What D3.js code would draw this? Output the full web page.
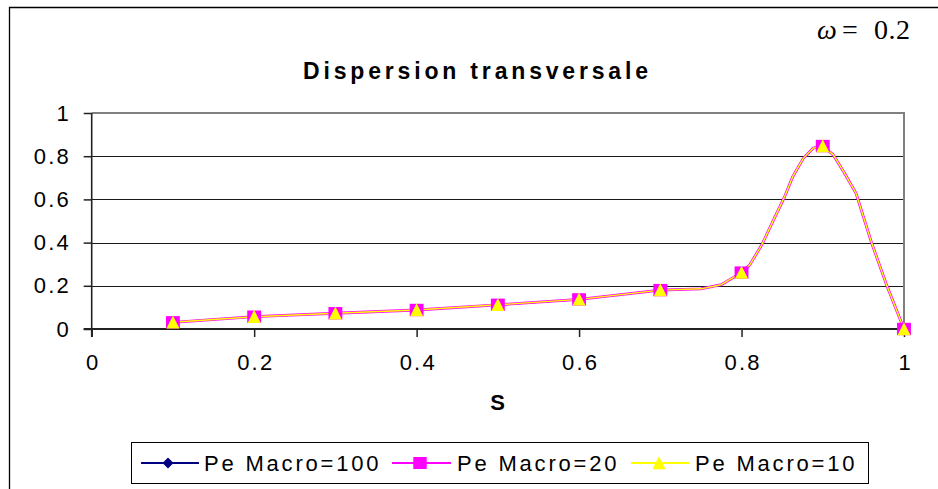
<!DOCTYPE html>
<html>
<head>
<meta charset="utf-8">
<script src="https://cdn.jsdelivr.net/npm/d3@7/dist/d3.min.js"></script>
<style>
  html, body { margin: 0; padding: 0; background: #fff; }
  svg { display: block; }
  text { font-family: "Liberation Sans", Arial, sans-serif; fill: #000; }
</style>
</head>
<body>
<svg id="chart" width="938" height="489"></svg>
<script>
// ---------------- data ----------------
const title = "Dispersion transversale";
const xLabel = "S";
const omegaLabel = "0.2";
const xTicks = [0, 0.2, 0.4, 0.6, 0.8, 1];
const yTicks = [0, 0.2, 0.4, 0.6, 0.8, 1];

// marker positions (S) and values
const sMarkers = [0.1, 0.2, 0.3, 0.4, 0.5, 0.6, 0.7, 0.8, 0.9, 1.0];
const pe100 = [0.031, 0.057, 0.073, 0.088, 0.112, 0.137, 0.180, 0.261, 0.847, 0.0];
const pe20  = [0.031, 0.057, 0.073, 0.088, 0.112, 0.137, 0.180, 0.261, 0.847, 0.0];
const pe10  = [0.031, 0.057, 0.073, 0.088, 0.112, 0.137, 0.180, 0.261, 0.847, 0.0];

// curve points
const sCurve = [0.1, 0.2, 0.3, 0.4, 0.5, 0.6, 0.7, 0.75, 0.775, 0.8, 0.81, 0.825, 0.84, 0.853,
                0.863, 0.876, 0.888, 0.9, 0.913, 0.927, 0.941, 0.96, 0.978, 1.0];
const curve100 = [0.031, 0.057, 0.073, 0.088, 0.112, 0.137, 0.180, 0.186, 0.205, 0.261, 0.296, 0.39, 0.51, 0.612,
                  0.705, 0.79, 0.837, 0.847, 0.806, 0.72, 0.628, 0.40, 0.21, 0.0];
const curve20  = [0.031, 0.057, 0.073, 0.088, 0.112, 0.137, 0.180, 0.186, 0.205, 0.261, 0.296, 0.39, 0.51, 0.612,
                  0.705, 0.79, 0.837, 0.847, 0.806, 0.72, 0.628, 0.40, 0.21, 0.0];
const curve10  = [0.031, 0.057, 0.073, 0.088, 0.112, 0.137, 0.180, 0.186, 0.205, 0.261, 0.296, 0.39, 0.51, 0.612,
                  0.705, 0.79, 0.837, 0.847, 0.806, 0.72, 0.628, 0.40, 0.21, 0.0];

const seriesNames = ["Pe Macro=100", "Pe Macro=20", "Pe Macro=10"];
const seriesColors = ["#000080", "#FF00FF", "#FFFF00"];
const seriesSymbols = ["diamond", "square", "triangle"];

// ---------------- layout ----------------
const svg = d3.select("#chart");
const plot = { left: 91.7, right: 904, top: 113, bottom: 329 };

const x = d3.scaleLinear().domain([0, 1]).range([plot.left, plot.right]);
const y = d3.scaleLinear().domain([0, 1]).range([plot.bottom, plot.top]);
const fmt = d => String(+d.toFixed(1));

// outer frame (only left/top visible)
svg.append("path")
  .attr("d", "M9.5,489 V7.5 H938")
  .attr("fill", "none").attr("stroke", "#000").attr("stroke-width", 1.3);

// omega label
const serif = "'Liberation Serif', 'Times New Roman', serif";
const om = svg.append("g").attr("transform", "translate(0,38.5)");
om.append("text").attr("x", 817).attr("y", 0)
  .style("font-family", serif)
  .style("font-style", "italic").style("font-size", "28px").text("ω");
om.append("text").attr("x", 842).attr("y", 0)
  .style("font-family", serif)
  .style("font-size", "28px").text("=");
om.append("text").attr("x", 874).attr("y", 0)
  .style("font-family", serif)
  .style("font-size", "28px").style("letter-spacing", "0.5px").text(omegaLabel);

// title
svg.append("text")
  .attr("x", 303).attr("y", 79)
  .style("font-size", "23px").style("font-weight", "bold")
  .attr("textLength", 345).attr("lengthAdjust", "spacing")
  .text(title);

// gridlines
svg.append("g").selectAll("line")
  .data(yTicks.filter(d => d > 0 && d < 1))
  .join("line")
  .attr("x1", plot.left).attr("x2", plot.right)
  .attr("y1", d => Math.round(y(d)) + 0.5).attr("y2", d => Math.round(y(d)) + 0.5)
  .attr("stroke", "#1a1a1a").attr("stroke-width", 1.2);

// plot area border (top/right, gray)
svg.append("path")
  .attr("d", `M${plot.left},${y(1)} H${x(1)} V${plot.bottom}`)
  .attr("fill", "none").attr("stroke", "#808080").attr("stroke-width", 2);

// axes
const ls = 2.2;
const yAxis = svg.append("g")
  .attr("transform", `translate(${plot.left},0)`)
  .call(d3.axisLeft(y).tickValues(yTicks).tickFormat(fmt).tickSize(8).tickPadding(15).tickSizeOuter(0));
yAxis.select(".domain").remove();
yAxis.selectAll(".tick line").attr("stroke", "#222").attr("stroke-width", 1.5);
yAxis.selectAll(".tick text")
  .style("font-size", "22px").style("letter-spacing", ls + "px")
  .attr("dx", ls).attr("fill", "#000");

const xAxis = svg.append("g")
  .attr("transform", `translate(0,${plot.bottom})`)
  .call(d3.axisBottom(x).tickValues(xTicks).tickFormat(fmt).tickSize(8).tickPadding(17).tickSizeOuter(0));
xAxis.select(".domain").remove();
xAxis.selectAll(".tick line").attr("stroke", "#222").attr("stroke-width", 1.5);
xAxis.selectAll(".tick text")
  .style("font-size", "22px").style("letter-spacing", ls + "px")
  .attr("dx", ls / 2).attr("fill", "#000");

// axis lines
svg.append("line")
  .attr("x1", plot.left).attr("x2", plot.left).attr("y1", y(1)).attr("y2", plot.bottom + 8)
  .attr("stroke", "#222").attr("stroke-width", 1.6);
svg.append("line")
  .attr("x1", plot.left - 8).attr("x2", plot.right).attr("y1", plot.bottom).attr("y2", plot.bottom)
  .attr("stroke", "#222").attr("stroke-width", 1.8);

// x label
svg.append("text")
  .attr("x", 497.5).attr("y", 410).attr("text-anchor", "middle")
  .style("font-size", "22px").style("font-weight", "bold").text(xLabel);

// series
const curves = [curve100, curve20, curve10];
const markers = [pe100, pe20, pe10];
const lineWidths = [1.5, 2.8, 1.4];
const line = d3.line().x(d => x(d[0])).y(d => y(d[1]));

function symbolPath(type, s) {
  if (type === "diamond") return `M0,${-s} L${s},0 L0,${s} L${-s},0 Z`;
  if (type === "square") return `M${-s * 1.12},${-s} H${s * 1.12} V${s} H${-s * 1.12} Z`;
  return `M0,${-s * 1.1} L${s * 1.05},${s} L${-s * 1.05},${s} Z`;
}
const symbolSizes = [5, 6.2, 6.2];

const gSeries = svg.append("g");
curves.forEach((c, i) => {
  gSeries.append("path")
    .datum(sCurve.map((s, k) => [s, c[k]]))
    .attr("d", line)
    .attr("fill", "none")
    .attr("stroke", seriesColors[i])
    .attr("stroke-width", lineWidths[i])
    .attr("stroke-linejoin", "round");
});
markers.forEach((m, i) => {
  gSeries.append("g").selectAll("path")
    .data(sMarkers.map((s, k) => [s, m[k]]))
    .join("path")
    .attr("transform", d => `translate(${x(d[0])},${y(d[1])})`)
    .attr("d", symbolPath(seriesSymbols[i], symbolSizes[i]))
    .attr("fill", seriesColors[i]);
});

// legend
const lg = svg.append("g");
lg.append("rect")
  .attr("x", 131.5).attr("y", 442.5).attr("width", 737).attr("height", 41)
  .attr("fill", "#fff").attr("stroke", "#000").attr("stroke-width", 1);
const legendItems = [
  { x1: 141, x2: 199, mx: 168, tx: 204 },
  { x1: 392, x2: 451, mx: 420, tx: 457 },
  { x1: 631, x2: 689, mx: 659, tx: 695 }
];
const legendSizes = [5.5, 6, 6.2];
seriesNames.forEach((name, i) => {
  const it = legendItems[i];
  lg.append("line")
    .attr("x1", it.x1).attr("x2", it.x2).attr("y1", 463).attr("y2", 463)
    .attr("stroke", seriesColors[i]).attr("stroke-width", 2);
  lg.append("path")
    .attr("transform", `translate(${it.mx},463)`)
    .attr("d", symbolPath(seriesSymbols[i], legendSizes[i]))
    .attr("fill", seriesColors[i]);
  lg.append("text")
    .attr("x", it.tx).attr("y", 471)
    .style("font-size", "22px").style("letter-spacing", "2.8px")
    .text(name);
});
</script>
</body>
</html>
